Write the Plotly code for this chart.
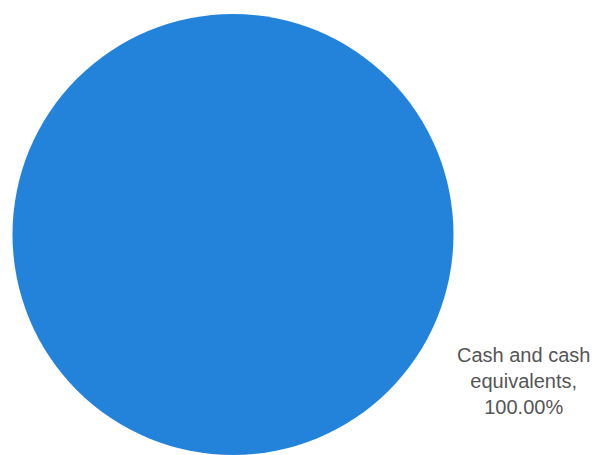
import plotly.graph_objects as go

labels = ["Cash and cash equivalents"]
values = [100.0]
colors = ["#2383DB"]

label_text = "Cash and cash<br>equivalents,<br>{:.2f}%".format(values[0] / sum(values) * 100)

# page body has an 8px default margin; figure is sized to fit the window
W, H = 591, 447

fig = go.Figure(
    go.Pie(
        labels=labels,
        values=values,
        marker=dict(colors=colors, line=dict(width=0)),
        textinfo="none",
        sort=False,
        direction="clockwise",
        rotation=0,
        showlegend=False,
        hoverinfo="label+percent",
        domain=dict(x=[3 / W, 447 / W], y=[0.0, 1 - 6 / H]),
    )
)

fig.add_annotation(
    x=515 / W, y=1 - 373 / H, xref="paper", yref="paper",
    text=label_text, showarrow=False, align="center",
    xanchor="center", yanchor="middle",
    font=dict(family="Liberation Sans, Arial, sans-serif", size=20, color="#555555"),
)

fig.update_layout(
    width=W, height=H,
    margin=dict(l=0, r=0, t=0, b=0),
    paper_bgcolor="white", plot_bgcolor="white",
)

fig.write_html("out.html")
